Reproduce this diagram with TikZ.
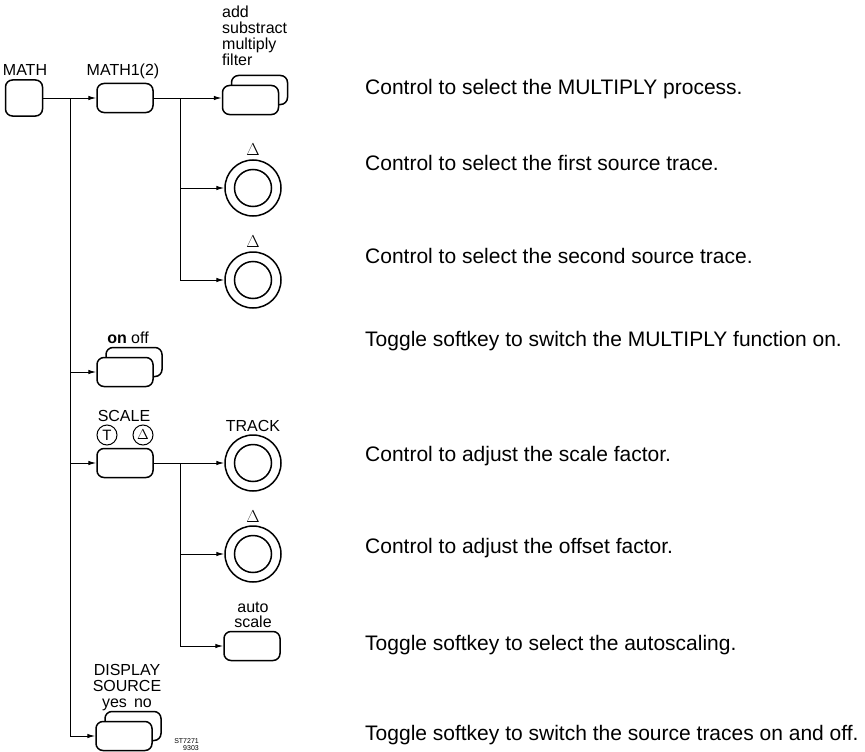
\documentclass[tikz,border=0pt]{standalone}
\usepackage{fontspec}
\setmainfont{Liberation Sans}
\usetikzlibrary{arrows.meta}

\begin{document}
\begin{tikzpicture}[x=1pt,y=-1pt,
  key/.style={draw,line width=1.5pt,rounded corners=7pt,fill=white,minimum width=56pt,minimum height=29pt,inner sep=0pt},
  knob/.style={draw,circle,line width=1.5pt,minimum size=56pt,inner sep=0pt},
  knobin/.style={draw,circle,line width=1.5pt,minimum size=37pt,inner sep=0pt},
  lbl/.style={font=\fontsize{16}{17}\selectfont,inner sep=0pt,anchor=base},
  ring/.style={draw,circle,line width=1pt,minimum size=20pt,inner sep=0pt,font=\fontsize{15}{16}\selectfont},
  txt/.style={font=\fontsize{21}{23}\selectfont,anchor=base west,inner sep=0pt},
  wire/.style={line width=1pt},
  feed/.style={wire,-{Latex[length=8pt,width=4.5pt]}}]
  \useasboundingbox (0,0) rectangle (865,752);

  % keys on the left, fronts drawn over the backs of the double keys
  \node[key,minimum width=37pt,minimum height=36pt] (math) at (24,98) {};
  \node[key] (math1) at (125,98) {};
  \node[key] (addb) at (259.5,90) {};
  \node[key] (add) at (250.5,100) {};
  \node[key] (onoffb) at (134,362) {};
  \node[key] (onoff) at (125,372) {};
  \node[key] (scale) at (125,463) {};
  \node[key] (dispb) at (133,726) {};
  \node[key] (disp) at (124,736) {};
  \node[key] (auto) at (252,646) {};

  % knobs
  \node[knob] (k1) at (253,188) {};
  \node[knobin] (k1i) at (k1) {};
  \node[knob] (k2) at (253,280) {};
  \node[knobin] (k2i) at (k2) {};
  \node[knob] (track) at (253,463) {};
  \node[knobin] (tracki) at (track) {};
  \node[knob] (k4) at (253,554) {};
  \node[knobin] (k4i) at (k4) {};

  % labels
  \node[lbl] (lmath) at (25,76) {MATH};
  \node[lbl] (lmath1) at (123,76) {MATH1(2)};
  \foreach \w [count=\i] in {add,substract,multiply,filter}
    \node[lbl,anchor=base west] (ladd\i) at (222,2+16*\i) {\w};
  \node[lbl] (dk1) at (253,155) {$\Delta$};
  \node[lbl] (dk2) at (253,247) {$\Delta$};
  \node[lbl] (ltrack) at (253,431) {TRACK};
  \node[lbl] (dk4) at (253,522) {$\Delta$};
  \node[lbl] (lonoff) at (128,343) {\textbf{on} off};
  \node[lbl] (lscale) at (124,421) {SCALE};
  \node[ring] (mt) at (107,435) {T};
  \node[ring] (md) at (143,435) {$\Delta$};
  \node[lbl] (lauto1) at (253,612) {auto};
  \node[lbl] (lauto2) at (253,627) {scale};
  \node[lbl] (ldisp1) at (127,675) {DISPLAY};
  \node[lbl] (ldisp2) at (127,691) {SOURCE};
  \node[lbl] (ldisp3) at (127,707) {yes\, no};
  \node[lbl,anchor=base east,font=\fontsize{7}{8}\selectfont] (st1) at (199,743) {ST7271};
  \node[lbl,anchor=base east,font=\fontsize{7}{8}\selectfont] (st2) at (199,750) {9303};

  % connectors
  \coordinate (t1) at (70,98);
  \coordinate (t1e) at (70,736);
  \coordinate (t2) at (180,98);
  \coordinate (t3) at (180,463);
  \draw[feed] (math) -- (math1);
  \draw[wire] (t1) -- (t1e);
  \draw[feed] (t1 |- onoff) -- (onoff);
  \draw[feed] (t1 |- scale) -- (scale);
  \draw[feed] (t1e) -- (disp);
  \draw[feed] (math1.east) -- (add.west |- math1.east);
  \draw[wire] (t2) -- (t2 |- k2);
  \draw[feed] (t2 |- k1) -- (k1);
  \draw[feed] (t2 |- k2) -- (k2);
  \draw[feed] (scale) -- (track);
  \draw[wire] (t3) -- (t3 |- auto);
  \draw[feed] (t3 |- k4) -- (k4);
  \draw[feed] (t3 |- auto) -- (auto);

  % descriptions
  \node[txt] (d1) at (365,94) {Control to select the MULTIPLY process.};
  \node[txt] (d2) at (365,170) {Control to select the first source trace.};
  \node[txt] (d3) at (365,263) {Control to select the second source trace.};
  \node[txt] (d4) at (365,346) {Toggle softkey to switch the MULTIPLY function on.};
  \node[txt] (d5) at (365,461) {Control to adjust the scale factor.};
  \node[txt] (d6) at (365,553) {Control to adjust the offset factor.};
  \node[txt] (d7) at (365,650) {Toggle softkey to select the autoscaling.};
  \node[txt] (d8) at (365,740) {Toggle softkey to switch the source traces on and off.};
\end{tikzpicture}
\end{document}
